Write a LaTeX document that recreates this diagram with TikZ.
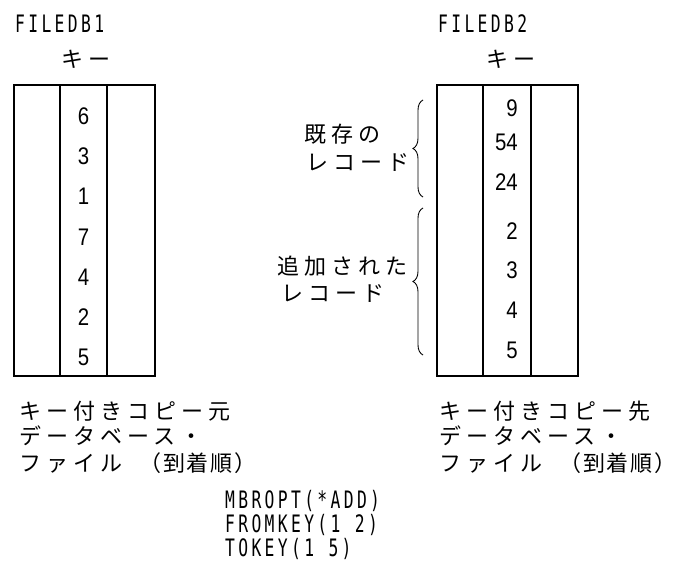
\documentclass[tikz,border=0pt]{standalone}
\usepackage{fontspec}
\setmainfont{Liberation Sans}
\newfontfamily\jfont[LetterSpace=23]{Noto Sans CJK JP}
\newfontfamily\jfontp[LetterSpace=8]{Noto Sans CJK JP}
\newfontfamily\codefont[FakeStretch=0.68,LetterSpace=14]{DejaVu Sans Mono}
\newfontfamily\numfont[FakeStretch=0.85]{Liberation Sans}
\usetikzlibrary{decorations.pathreplacing}
\tikzset{
  jtext/.style={anchor=west, inner sep=0pt, font=\jfont\fontsize{22}{26}\selectfont},
  ctext/.style={anchor=west, inner sep=0pt, font=\codefont\fontsize{24}{28}\selectfont},
  num/.style={inner sep=0pt, font=\numfont\fontsize{24}{28}\selectfont},
  tbl/.style={line width=1.3pt},
  brc/.style={line width=0.9pt, decorate, decoration={brace, amplitude=10pt, aspect=0.5}}
}
\newcommand{\paren}[1]{{\jfontp\fontsize{22}{26}\selectfont #1}}
\begin{document}
\begin{tikzpicture}[x=1pt,y=-1pt]
\useasboundingbox[fill=white] (0,0) rectangle (681,576);
% titles
\node[ctext] (t1) at (15,24) {FILEDB1};
\node[ctext] (t2) at (438,24) {FILEDB2};
\node[jtext] (k1) at (61,59) {キー};
\node[jtext] (k2) at (486,59) {キー};
% left table
\draw[tbl] (14,85) rectangle (155,376);
\draw[tbl] (60,85) -- (60,376);
\draw[tbl] (107,85) -- (107,376);
\foreach \v [count=\i from 0] in {6,3,1,7,4,2,5}{
  \node[num] (l\i) at (83.5,{116+40.3*\i}) {\v};
}
% right table
\draw[tbl] (437,85) rectangle (578,376);
\draw[tbl] (483,85) -- (483,376);
\draw[tbl] (531,85) -- (531,376);
\node[num,anchor=east] (r0) at (518,108) {9};
\node[num,anchor=east] (r1) at (518,142) {54};
\node[num,anchor=east] (r2) at (518,182) {24};
\node[num,anchor=east] (r3) at (518,231) {2};
\node[num,anchor=east] (r4) at (518,270) {3};
\node[num,anchor=east] (r5) at (518,310) {4};
\node[num,anchor=east] (r6) at (518,350) {5};
% braces
\coordinate (b1s) at (423,197);
\coordinate (b1e) at (423,100);
\coordinate (b2s) at (423,355);
\coordinate (b2e) at (423,208);
\draw[brc] (b1s) -- (b1e);
\draw[brc] (b2s) -- (b2e);
\node[jtext] (e1) at (304,134) {既存の};
\node[jtext] (e2) at (306,162) {レコード};
\node[jtext] (a1) at (277,266) {追加された};
\node[jtext] (a2) at (281,293) {レコード};
% bottom captions
\node[jtext] (s1) at (19,411) {キー付きコピー元};
\node[jtext] (s2) at (19,436) {データベース・};
\node[jtext] (s3) at (19,463) {ファイル\hspace{17pt}\paren{（到着順）}};
\node[jtext] (d1) at (439,411) {キー付きコピー先};
\node[jtext] (d2) at (439,436) {データベース・};
\node[jtext] (d3) at (439,463) {ファイル\hspace{17pt}\paren{（到着順）}};
% command
\node[ctext] (c1) at (225,501) {MBROPT(*ADD)};
\node[ctext] (c2) at (225,525) {FROMKEY(1\hspace{14.4pt}2)};
\node[ctext] (c3) at (225,549) {TOKEY(1\hspace{14.4pt}5)};
\end{tikzpicture}
\end{document}
